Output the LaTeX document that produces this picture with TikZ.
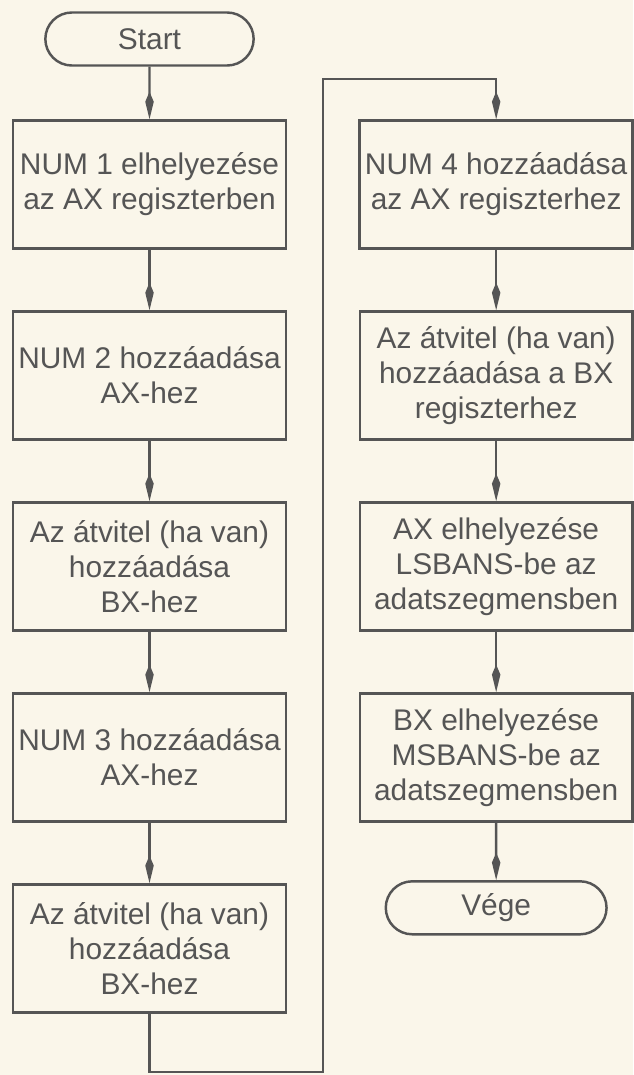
\documentclass[tikz,border=0pt]{standalone}
\usepackage{fontspec}
\setmainfont{Liberation Sans}
\usepackage{xcolor}
\usepackage{tikz}
\usetikzlibrary{positioning, arrows.meta, calc, shapes.misc}

\definecolor{paper}{RGB}{250,246,234}
\definecolor{ink}{RGB}{85,85,85}

\begin{document}
\begin{tikzpicture}[
    node distance=1.21cm and 1.43cm,
    block/.style={rectangle, draw=ink, line width=1.4pt, minimum width=5.45cm, minimum height=2.56cm, inner xsep=3pt, inner ysep=3pt, align=center, text=ink, font=\fontsize{17}{20}\selectfont},
    term/.style={rounded rectangle, draw=ink, line width=1.4pt, minimum width=4.4cm, minimum height=1.06cm, inner ysep=2pt, text=ink, font=\fontsize{17}{20}\selectfont},
    arr/.style={-{Kite[length=5.5mm, width=1.7mm, inset=2mm]}, draw=ink, line width=1.4pt},
]
% --- Paper ---
\fill[paper] (0,0) rectangle (12.66,-21.5);
\useasboundingbox (0,0) rectangle (12.66,-21.5);

% --- Left column ---
\node[term] (start) at (2.99,-0.78) {Start};
\node[block, below=1.05cm of start] (b1) {NUM 1 elhelyezése\\az AX regiszterben};
\node[block, below=of b1] (b2) {NUM 2 hozzáadása\\AX-hez};
\node[block, below=of b2] (b3) {Az átvitel (ha van)\\hozzáadása\\BX-hez};
\node[block, below=of b3] (b4) {NUM 3 hozzáadása\\AX-hez};
\node[block, below=of b4] (b5) {Az átvitel (ha van)\\hozzáadása\\BX-hez};

% --- Right column ---
\node[block, right=of b1] (b6) {NUM 4 hozzáadása\\az AX regiszterhez};
\node[block, below=of b6] (b7) {Az átvitel (ha van)\\hozzáadása a BX\\regiszterhez};
\node[block, below=of b7] (b8) {AX elhelyezése\\LSBANS-be az\\adatszegmensben};
\node[block, below=of b8] (b9) {BX elhelyezése\\MSBANS-be az\\adatszegmensben};
\node[term, minimum width=4.65cm, below=1.15cm of b9] (stop) {Vége};

% --- Arrows ---
\draw[arr] (start) -- (b1);
\draw[arr] (b1) -- (b2);
\draw[arr] (b2) -- (b3);
\draw[arr] (b3) -- (b4);
\draw[arr] (b4) -- (b5);
\draw[arr] (b6) -- (b7);
\draw[arr] (b7) -- (b8);
\draw[arr] (b8) -- (b9);
\draw[arr] (b9) -- (stop);

% --- Jump to second column ---
\coordinate (botturn) at ([yshift=-1.17cm]b5.south);
\coordinate (topturn) at ([yshift=0.81cm]b6.north);
\coordinate (midx) at ($(b1.east)!0.5!(b6.west)$);
\draw[arr] (b5.south) -- (botturn) -| (midx |- topturn) -| (b6.north);
\end{tikzpicture}
\end{document}
